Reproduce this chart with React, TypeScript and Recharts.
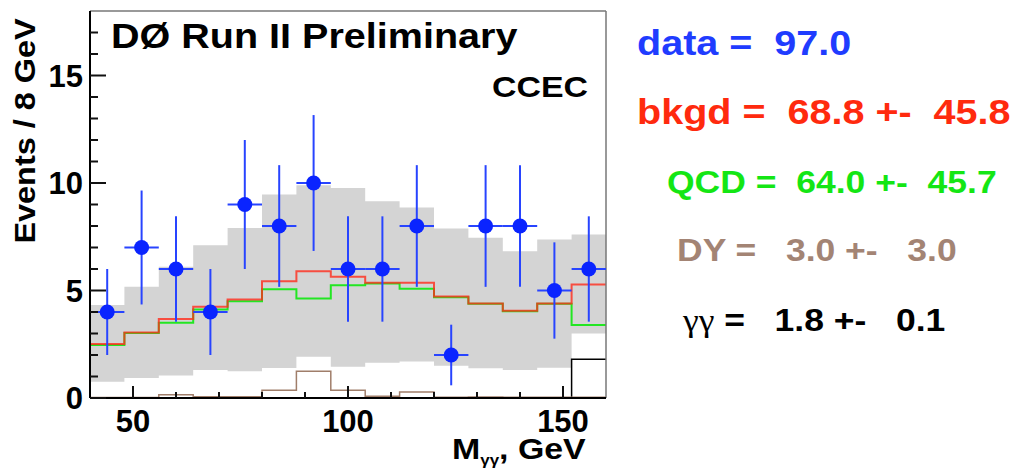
import React from 'react';
import { ComposedChart, XAxis, YAxis, Area, Line, Scatter, ErrorBar, ReferenceLine } from 'recharts';

// diphoton mass, CCEC category, 8 GeV bins from 40 to 160
const binLow = [40, 48, 56, 64, 72, 80, 88, 96, 104, 112, 120, 128, 136, 144, 152];
const binWidth = 8;

const dataCounts = [4, 7, 6, 4, 9, 8, 10, 6, 6, 8, 2, 8, 8, 5, 6];
const dataErr = [2.0, 2.65, 2.45, 2.0, 3.0, 2.83, 3.16, 2.45, 2.45, 2.83, 1.41, 2.83, 2.83, 2.24, 2.45];

const bkgd = [2.51, 3.05, 3.67, 4.24, 4.58, 5.43, 5.9, 5.64, 5.36, 5.36, 4.72, 4.4, 4.06, 4.4, 5.28];
const qcd = [2.46, 3.02, 3.5, 4.12, 4.5, 5.06, 4.63, 5.25, 5.32, 5.08, 4.69, 4.38, 4.04, 4.38, 3.39];
const dy = [0.02, 0.02, 0.15, 0.06, 0.06, 0.36, 1.25, 0.36, 0.08, 0.28, 0.04, 0.05, 0.04, 0.03, 0.03];
const gg = [0, 0, 0, 0, 0, 0, 0, 0, 0, 0, 0, 0, 0, 0, 1.8];

// bkgd uncertainty band
const bandLow = [0.76, 0.93, 1.05, 1.3, 1.25, 1.4, 1.92, 1.45, 1.64, 1.7, 1.5, 1.38, 1.3, 1.41, 3.0];
const bandHigh = [4.32, 5.17, 6.1, 7.1, 7.91, 9.46, 9.89, 9.77, 9.15, 8.86, 7.88, 7.45, 6.83, 7.37, 7.6];

const xTicks = [50, 100, 150];
const xMinorTicks = [50, 60, 70, 80, 90, 100, 110, 120, 130, 140, 150];
const yTicks = [0, 5, 10, 15];
const yMinorTicks = [0, 1, 2, 3, 4, 5, 6, 7, 8, 9, 10, 11, 12, 13, 14, 15, 16, 17];

const FONT = '"Liberation Sans", Arial, Helvetica, sans-serif';
const X_MARGIN = 12;
const Y_MARGIN = 7;

// ROOT style: ticks point into the frame, labels only on majors
const XTick = (props: any) => {
  const { x, y, payload } = props;
  const major = xTicks.includes(payload.value);
  const base = y - X_MARGIN;
  return (
    <g>
      <line x1={x} x2={x} y1={base} y2={base - (major ? 12 : 6)} stroke="#111" strokeWidth={2} />
      {major && (
        <text x={x} y={y} dy="0.71em" textAnchor="middle" fontSize={31} fontWeight="bold" fill="#000">
          {payload.value}
        </text>
      )}
    </g>
  );
};

const YTick = (props: any) => {
  const { x, y, payload } = props;
  const major = yTicks.includes(payload.value);
  const base = x + Y_MARGIN;
  return (
    <g>
      <line x1={base} x2={base + (major ? 16 : 8)} y1={y} y2={y} stroke="#111" strokeWidth={2} />
      {major && (
        <text x={x} y={y} dy="0.355em" textAnchor="end" fontSize={31} fontWeight="bold" fill="#000">
          {payload.value}
        </text>
      )}
    </g>
  );
};

export default function App() {
  // step table: one row per bin edge, last edge repeats the last bin
  const steps = [...binLow, binLow[binLow.length - 1] + binWidth].map((x, i) => {
    const k = Math.min(i, binLow.length - 1);
    return { x, bkgd: bkgd[k], qcd: qcd[k], dy: dy[k], gg: gg[k], band: [bandLow[k], bandHigh[k]] };
  });

  const points = binLow.map((lo, i) => ({
    x: lo + binWidth / 2,
    y: dataCounts[i],
    ex: binWidth / 2,
    ey: dataErr[i],
  }));

  return (
    <div style={{ position: 'absolute', left: 0, top: 0, width: 1018, height: 471, background: '#fff', fontFamily: FONT }}>
      <ComposedChart width={1018} height={471} margin={{ top: 11, right: 412, bottom: 0, left: 0 }}>
        <Area xAxisId="x" yAxisId="y" data={steps} dataKey="band" type="stepAfter"
          fill="#d4d4d4" fillOpacity={1} stroke="none" isAnimationActive={false} />

        <XAxis xAxisId="x" dataKey="x" type="number" domain={[40, 160]} allowDataOverflow height={73}
          ticks={xMinorTicks} interval={0} tickLine={false} tickSize={0} tickMargin={X_MARGIN}
          axisLine={{ stroke: '#000', strokeWidth: 2 }} tick={<XTick />} />
        <YAxis yAxisId="y" type="number" domain={[0, 18]} allowDataOverflow width={90}
          ticks={yMinorTicks} interval={0} tickLine={false} tickSize={0} tickMargin={Y_MARGIN}
          axisLine={{ stroke: '#000', strokeWidth: 2 }} tick={<YTick />} />

        <Line xAxisId="x" yAxisId="y" data={steps} dataKey="gg" type="stepAfter"
          stroke="#000" strokeWidth={1.5} dot={false} isAnimationActive={false} />
        <Line xAxisId="x" yAxisId="y" data={steps} dataKey="dy" type="stepAfter"
          stroke="#a07e6a" strokeWidth={1.5} dot={false} isAnimationActive={false} />
        <Line xAxisId="x" yAxisId="y" data={steps} dataKey="qcd" type="stepAfter"
          stroke="#22e622" strokeWidth={2} dot={false} isAnimationActive={false} />
        <Line xAxisId="x" yAxisId="y" data={steps} dataKey="bkgd" type="stepAfter"
          stroke="#ff2a1a" strokeOpacity={0.8} strokeWidth={2} dot={false} isAnimationActive={false} />

        {/* top and right sides of the frame */}
        <ReferenceLine xAxisId="x" yAxisId="y" y={18} stroke="#777" strokeWidth={1.5} />
        <ReferenceLine xAxisId="x" yAxisId="y" x={160} stroke="#777" strokeWidth={1.5} />

        <Scatter xAxisId="x" yAxisId="y" data={points} dataKey="y" isAnimationActive={false}
          shape={(p: any) => <circle cx={p.cx} cy={p.cy} r={7.5} fill="#0a24ff" />}>
          <ErrorBar dataKey="ey" direction="y" width={0} stroke="#2844ff" strokeWidth={2} />
          <ErrorBar dataKey="ex" direction="x" width={0} stroke="#2844ff" strokeWidth={2} />
        </Scatter>
      </ComposedChart>

      <svg width={1018} height={471} style={{ position: 'absolute', left: 0, top: 0, pointerEvents: 'none' }}
        fontFamily={FONT} fontWeight="bold">
        <text transform="translate(111,48) scale(1.13,1)" fontSize={35}>DØ Run II Preliminary</text>
        <text transform="translate(492,97) scale(1.13,1)" fontSize={30}>CCEC</text>
        <text transform="translate(35,131) rotate(-90) scale(1.08,1)" textAnchor="middle" fontSize={30}>
          Events / 8 GeV
        </text>
        <text transform="translate(452,459) scale(1.13,1)" fontSize={30}>
          M<tspan fontSize={15} dy={6}>γγ</tspan><tspan dy={-6}>, GeV</tspan>
        </text>

        <text xmlSpace="preserve" style={{ whiteSpace: 'pre' }} transform="translate(637,55) scale(1.13,1)"
          fontSize={35} fill="#1f3cff">{'data =  97.0'}</text>
        <text xmlSpace="preserve" style={{ whiteSpace: 'pre' }} transform="translate(637,124) scale(1.13,1)"
          fontSize={35} fill="#ff2a0e">{'bkgd =  68.8 +-  45.8'}</text>
        <text xmlSpace="preserve" style={{ whiteSpace: 'pre' }} transform="translate(667,193) scale(1.11,1)"
          fontSize={32} fill="#14e614">{'QCD =  64.0 +-  45.7'}</text>
        <text xmlSpace="preserve" style={{ whiteSpace: 'pre' }} transform="translate(677,261) scale(1.11,1)"
          fontSize={32} fill="#a38474">{'DY =   3.0 +-   3.0'}</text>
        <text xmlSpace="preserve" style={{ whiteSpace: 'pre' }} transform="translate(683,331) scale(1.11,1)"
          fontSize={32} fill="#000">
          <tspan fontFamily='"Liberation Serif", "Times New Roman", serif' fontWeight="normal">γγ</tspan>
          <tspan>{' =   1.8 +-   0.1'}</tspan>
        </text>
      </svg>
    </div>
  );
}
